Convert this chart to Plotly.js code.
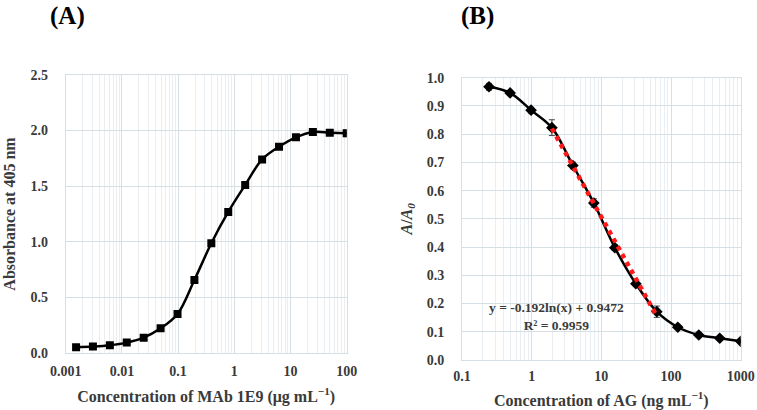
<!DOCTYPE html>
<html><head><meta charset="utf-8">
<script src="https://cdn.plot.ly/plotly-3.0.1.min.js"></script>
<style>html,body{margin:0;padding:0;background:#fff}#chart{width:757px;height:410px}</style>
</head><body><div id="chart"></div>
<script>
// Panel A
const concA = [0.00153, 0.00305, 0.0061, 0.0122, 0.0244, 0.0488, 0.0977, 0.195, 0.39, 0.78, 1.5625, 3.125, 6.25, 12.5, 25, 50, 100];
const absA  = [0.054, 0.060, 0.072, 0.096, 0.140, 0.224, 0.353, 0.658, 0.987, 1.268, 1.510, 1.740, 1.854, 1.938, 1.986, 1.980, 1.974];
const errA  = [0.01, 0.01, 0.01, 0.01, 0.01, 0.01, 0.01, 0.015, 0.015, 0.015, 0.015, 0.02, 0.015, 0.015, 0.03, 0.015, 0.03];
const tickValsA = [0.001, 0.01, 0.1, 1, 10, 100];
const tickTextA = ["0.001", "0.01", "0.1", "1", "10", "100"];
const yTicksA = [0, 0.5, 1.0, 1.5, 2.0, 2.5];
const yTickTextA = ["0.0", "0.5", "1.0", "1.5", "2.0", "2.5"];

// Panel B
const concB = [0.244, 0.49, 0.98, 1.95, 3.9, 7.8, 15.6, 31.25, 62.5, 125, 250, 500, 1000];
const ratioB = [0.968, 0.946, 0.885, 0.823, 0.689, 0.556, 0.398, 0.270, 0.171, 0.116, 0.0885, 0.077, 0.066];
const errB  = [0.012, 0.008, 0.01, 0.028, 0.012, 0.015, 0.01, 0.01, 0.02, 0.008, 0.006, 0.006, 0.006];
const trendX = [1.95, 62.5];
const trendY = [0.820, 0.155];
const tickValsB = [0.1, 1, 10, 100, 1000];
const tickTextB = ["0.1", "1", "10", "100", "1000"];
const yTicksB = [0, 0.1, 0.2, 0.3, 0.4, 0.5, 0.6, 0.7, 0.8, 0.9, 1.0];
const yTickTextB = ["0.0","0.1","0.2","0.3","0.4","0.5","0.6","0.7","0.8","0.9","1.0"];

const serif = "Liberation Serif, Times New Roman, serif";
const txtCol = "#3a3a3a";
const gridCol = "#d5dfe4";
const minorCol = "#e8eef1";

const traces = [
  {x: concA, y: absA, xaxis: 'x', yaxis: 'y', type: 'scatter', mode: 'lines+markers',
   line: {color: '#000', width: 2.5, shape: 'spline', smoothing: 1},
   marker: {symbol: 'square', size: 8, color: '#000'},
   error_y: {type: 'data', array: errA, visible: true, color: '#555', thickness: 1, width: 3}},
  {x: concB, y: ratioB, xaxis: 'x2', yaxis: 'y2', type: 'scatter', mode: 'lines+markers',
   line: {color: '#000', width: 2.5, shape: 'spline', smoothing: 1},
   marker: {symbol: 'diamond', size: 9, color: '#000'},
   error_y: {type: 'data', array: errB, visible: true, color: '#444', thickness: 1, width: 3}},
  {x: trendX, y: trendY, xaxis: 'x2', yaxis: 'y2', type: 'scatter', mode: 'lines',
   line: {color: '#ff1a1a', width: 4.5, dash: 'dot'}}
];

function xAxis(domain, range, tv, tt, anchor, title, standoff) {
  return {
    type: 'log', domain: domain, range: range, anchor: anchor,
    tickmode: 'array', tickvals: tv, ticktext: tt,
    showgrid: true, gridcolor: gridCol, gridwidth: 1,
    minor: {showgrid: true, gridcolor: minorCol, gridwidth: 1, dtick: 'D1', ticks: ''},
    showline: true, mirror: true, linecolor: gridCol, linewidth: 1,
    ticks: '', ticklabelstandoff: standoff, zeroline: false,
    tickfont: {family: serif, size: 14, color: txtCol, weight: 'bold'},
    title: {text: title, font: {family: serif, size: 16, color: txtCol, weight: 'bold'}, standoff: 12}
  };
}
function yAxis(domain, range, tv, tt, anchor, title) {
  return {
    domain: domain, range: range, anchor: anchor,
    tickmode: 'array', tickvals: tv, ticktext: tt,
    showgrid: true, gridcolor: gridCol, gridwidth: 1,
    showline: true, mirror: true, linecolor: gridCol, linewidth: 1,
    ticks: '', ticklabelstandoff: 14, zeroline: false,
    tickfont: {family: serif, size: 14, color: txtCol, weight: 'bold'},
    title: {text: title, font: {family: serif, size: 16, color: txtCol, weight: 'bold'}, standoff: 10}
  };
}

const layout = {
  width: 757, height: 410,
  margin: {l: 0, r: 0, t: 0, b: 0},
  paper_bgcolor: '#fff', plot_bgcolor: '#fff',
  showlegend: false,
  xaxis: xAxis([0.0868, 0.458], [-3, 2], tickValsA, tickTextA, 'y', 'Concentration of MAb 1E9 (μg mL<sup>−1</sup>)', 5),
  yaxis: yAxis([0.1383, 0.8178], [0, 2.5], yTicksA, yTickTextA, 'x', 'Absorbance at 405 nm'),
  xaxis2: xAxis([0.6103, 0.9785], [-1, 3], tickValsB, tickTextB, 'y2', 'Concentration of AG (ng mL<sup>−1</sup>)', 3),
  yaxis2: yAxis([0.122, 0.8105], [0, 1.0], yTicksB, yTickTextB, 'x2', '<i>A</i>/<i>A</i><sub><i>0</i></sub>'),
  annotations: [
    {text: '(A)', xref: 'paper', yref: 'paper', x: 67/757, y: 1 - 16/410, xanchor: 'center', yanchor: 'middle', showarrow: false,
     font: {family: serif, size: 25, color: '#000', weight: 'bold'}},
    {text: '(B)', xref: 'paper', yref: 'paper', x: 477/757, y: 1 - 16/410, xanchor: 'center', yanchor: 'middle', showarrow: false,
     font: {family: serif, size: 25, color: '#000', weight: 'bold'}},
    {text: 'y = -0.192ln(x) + 0.9472<br>R² = 0.9959', xref: 'paper', yref: 'paper', x: 556/757, y: 1 - 316/410,
     xanchor: 'center', yanchor: 'middle', showarrow: false, align: 'center',
     font: {family: serif, size: 13.5, color: txtCol, weight: 'bold'}}
  ]
};

Plotly.newPlot('chart', traces, layout, {displayModeBar: false, staticPlot: true});
</script></body></html>
